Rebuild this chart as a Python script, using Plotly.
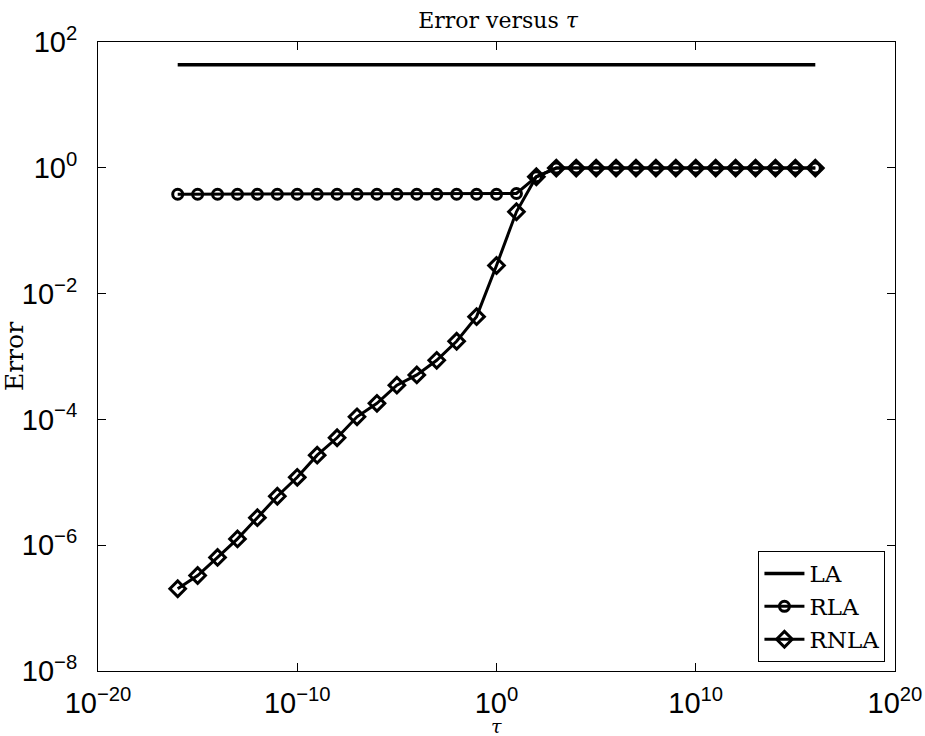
import plotly.graph_objects as go

# tau values: 10^-16 ... 10^16
tau_exp = list(range(-16, 17))
tau = [10.0 ** e for e in tau_exp]

la_err = [43.6] * len(tau)

rla_err = [0.38, 0.38, 0.38, 0.38, 0.38, 0.38, 0.38, 0.38, 0.38, 0.38, 0.38,
           0.38, 0.38, 0.38, 0.38, 0.38, 0.38, 0.39, 0.72,
           0.99, 0.99, 0.99, 0.99, 0.99, 0.99, 0.99, 0.99, 0.99, 0.99, 0.99,
           0.99, 0.99, 0.99]

rnla_err = [2.03e-7, 3.3e-7, 6.4e-7, 1.26e-6, 2.74e-6, 6.0e-6, 1.2e-5, 2.7e-5,
            5.1e-5, 1.1e-4, 1.8e-4, 3.5e-4, 5.1e-4, 8.7e-4, 1.75e-3, 4.3e-3,
            2.8e-2, 0.20, 0.72,
            0.99, 0.99, 0.99, 0.99, 0.99, 0.99, 0.99, 0.99, 0.99, 0.99, 0.99,
            0.99, 0.99, 0.99]

series_names = ["LA", "RLA", "RNLA"]

x_tick_exp = [-20, -10, 0, 10, 20]
y_tick_exp = [-8, -6, -4, -2, 0, 2]


def pow_label(e):
    s = str(e).replace("-", "\u2212")
    return f"10<sup>{s}</sup>"


serif = "DejaVu Serif, Liberation Serif, serif"
sans = "Liberation Sans, Arial, sans-serif"

fig = go.Figure()
fig.add_trace(go.Scatter(x=tau, y=la_err, mode="lines", name=series_names[0],
                         line=dict(color="black", width=3.5)))
fig.add_trace(go.Scatter(x=tau, y=rla_err, mode="lines+markers", name=series_names[1],
                         line=dict(color="black", width=3),
                         marker=dict(symbol="circle-open", size=10, color="black",
                                     line=dict(width=3, color="black"))))
fig.add_trace(go.Scatter(x=tau, y=rnla_err, mode="lines+markers", name=series_names[2],
                         line=dict(color="black", width=3),
                         marker=dict(symbol="diamond-open", size=12, color="black",
                                     line=dict(width=3, color="black"))))

axis_common = dict(
    type="log", showgrid=False, zeroline=False, automargin=False,
    showline=True, linecolor="black", linewidth=1, mirror="allticks",
    ticks="inside", ticklen=8, tickwidth=1, tickcolor="black",
    tickfont=dict(family=sans, size=29, color="black"),
)

fig.update_xaxes(**axis_common, range=[-20, 20],
                 tickmode="array",
                 tickvals=[10.0 ** e for e in x_tick_exp],
                 ticktext=[pow_label(e) for e in x_tick_exp],
                 ticklabelstandoff=6)
fig.update_yaxes(**axis_common, range=[-8, 2],
                 tickmode="array",
                 tickvals=[10.0 ** e for e in y_tick_exp],
                 ticktext=[pow_label(e) for e in y_tick_exp],
                 ticklabelstandoff=14,
                 title=dict(text="Error", font=dict(family=serif, size=25, color="black"),
                            standoff=4))

fig.add_annotation(text="<i>τ</i>", xref="paper", yref="paper", x=0.5, y=-0.087,
                   xanchor="center", yanchor="middle", showarrow=False,
                   font=dict(family=serif, size=19, color="black"))

fig.update_layout(
    width=925, height=736,
    margin=dict(l=98, r=30, t=42, b=65),
    plot_bgcolor="white", paper_bgcolor="white",
    title=dict(text="Error versus <i>τ</i>", x=0.5385, xanchor="center",
               y=0.972, yanchor="middle",
               font=dict(family=serif, size=22, color="black")),
    legend=dict(x=0.988, y=0.0143, xanchor="right", yanchor="bottom",
                bgcolor="white", bordercolor="black", borderwidth=1,
                font=dict(family=serif, size=23, color="black"),
                tracegroupgap=0, itemwidth=40),
    showlegend=True,
)

fig.write_html("out.html")
